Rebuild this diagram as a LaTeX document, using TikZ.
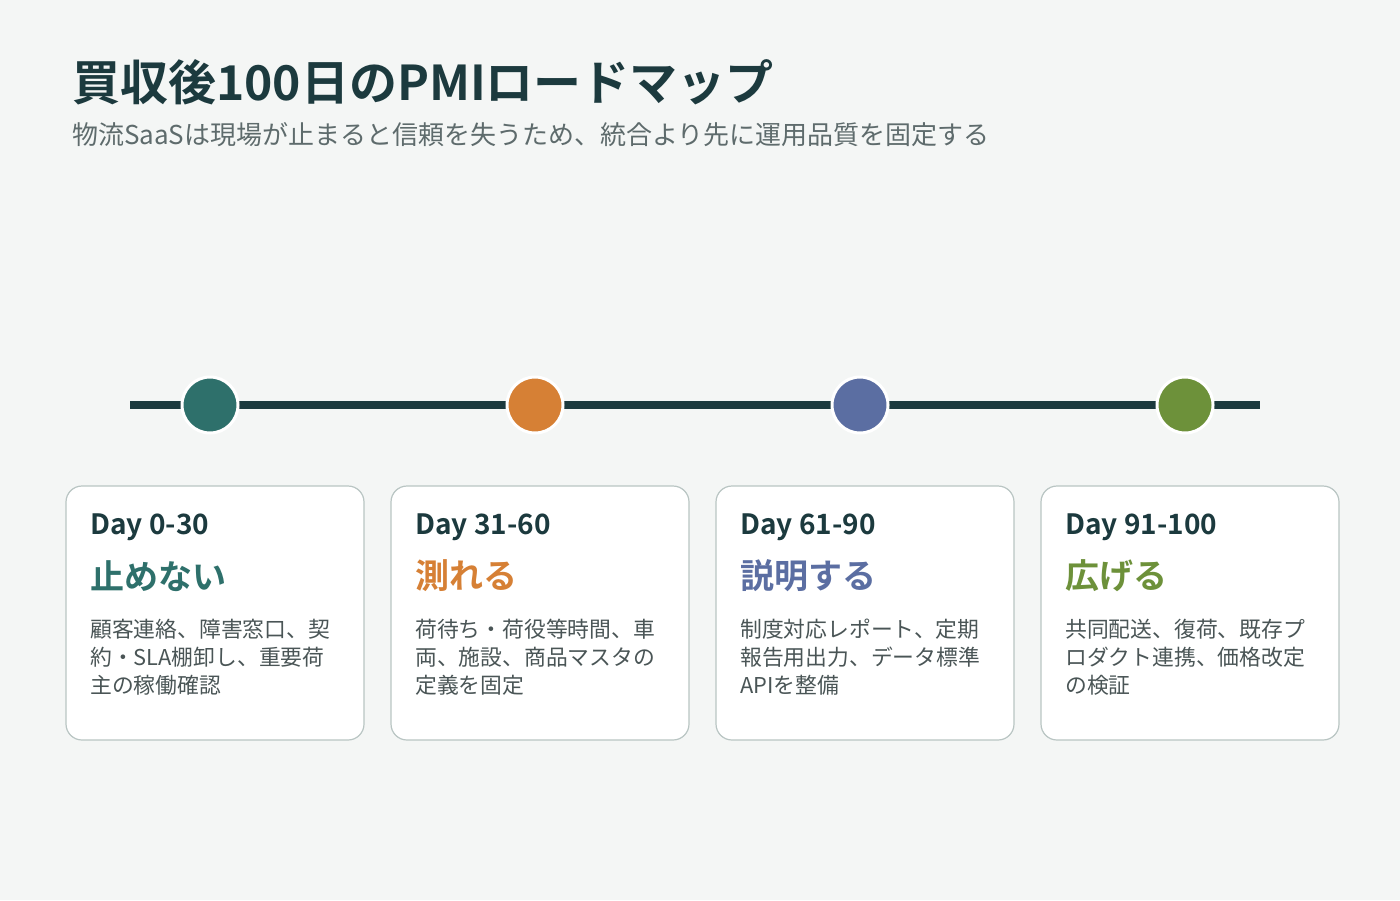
\documentclass[tikz,border=0pt]{standalone}
\usepackage{fontspec}
\setmainfont{Noto Sans CJK JP}[BoldFont={Noto Sans CJK JP Bold}]
\begin{document}
\begin{tikzpicture}[x=1pt,y=-1pt,
  card/.style={draw=cardb,fill=white,line width=1.2pt,rounded corners=16pt},
  dot/.style={circle,draw=white,line width=3pt,minimum size=56pt,inner sep=0pt},
  day/.style={anchor=west,inner sep=0pt,font=\fontsize{28}{32}\selectfont\bfseries,text=ink},
  ttl/.style={anchor=west,inner sep=0pt,font=\fontsize{34}{38}\selectfont\bfseries},
  body/.style={anchor=north west,inner sep=0pt,align=left,font=\fontsize{21.8}{28}\selectfont,text=bodyc}]
\definecolor{bg}{HTML}{F4F6F5}
\definecolor{ink}{HTML}{1C3A3E}
\definecolor{sub}{HTML}{5E6B6C}
\definecolor{bodyc}{HTML}{4A5556}
\definecolor{cardb}{HTML}{B9C5C3}
\definecolor{cA}{HTML}{2E706B}
\definecolor{cB}{HTML}{D68035}
\definecolor{cC}{HTML}{5B6EA2}
\definecolor{cD}{HTML}{6D913A}
\fill[bg] (0,0) rectangle (1400,900);
\useasboundingbox (0,0) rectangle (1400,900);
\node[anchor=west,inner sep=0pt,text=ink,font=\fontsize{48}{54}\selectfont\bfseries] (title) at (72,82) {買収後100日のPMIロードマップ};
\node[anchor=west,inner sep=0pt,text=sub,font=\fontsize{26}{30}\selectfont] (subt) at (72,135) {物流SaaSは現場が止まると信頼を失うため、統合より先に運用品質を固定する};
\coordinate (ls) at (130,405);
\coordinate (le) at (1260,405);
\draw[ink,line width=8pt] (ls) -- (le);
\node[dot,fill=cA] (d1) at (210,405) {};
\node[dot,fill=cB] (d2) at (535,405) {};
\node[dot,fill=cC] (d3) at (860,405) {};
\node[dot,fill=cD] (d4) at (1185,405) {};
\foreach \i/\x/\d/\t/\c/\b in {
 1/66/{Day 0-30}/{止めない}/cA/{顧客連絡、障害窓口、契\\約・SLA棚卸し、重要荷\\主の稼働確認},
 2/391/{Day 31-60}/{測れる}/cB/{荷待ち・荷役等時間、車\\両、施設、商品マスタの\\定義を固定},
 3/716/{Day 61-90}/{説明する}/cC/{制度対応レポート、定期\\報告用出力、データ標準\\APIを整備},
 4/1041/{Day 91-100}/{広げる}/cD/{共同配送、復荷、既存プ\\ロダクト連携、価格改定\\の検証}}{
 \draw[card] (\x,486) rectangle (\x+298,740);
 \node[day] (day\i) at (\x+24,527) {\d};
 \node[ttl,text=\c] (t\i) at (\x+24,576) {\t};
 \node[body] (b\i) at (\x+24,619) {\b};
}
\end{tikzpicture}
\end{document}
